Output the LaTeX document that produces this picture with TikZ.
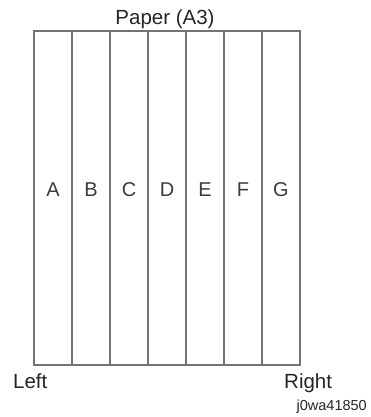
\documentclass[tikz,border=0pt]{standalone}
\usepackage{fontspec}
\setmainfont{Liberation Sans}
\begin{document}
\begin{tikzpicture}[x=1pt,y=-1pt,
  col/.style={draw=linegrey, line width=1.4pt, minimum width=38pt, minimum height=334pt, inner sep=0pt, outer sep=0pt},
  lbl/.style={text=txtgrey, font=\fontsize{20}{22}\selectfont, inner sep=0pt, anchor=base},
  captext/.style={text=black!85, font=\fontsize{20.5}{22}\selectfont, inner sep=0pt},
  codetext/.style={text=black!85, font=\fontsize{14.5}{16}\selectfont, inner sep=0pt}]
\definecolor{linegrey}{RGB}{115,115,115}
\definecolor{txtgrey}{RGB}{60,60,60}
\useasboundingbox[fill=white] (0,0) rectangle (370,417);
\foreach \n [count=\i from 0] in {A,B,C,D,E,F,G}{
  \node[col] (col\n) at ({34+38*\i+19},198) {};
  \node[lbl] (lab\n) at ({34+38*\i+19},196) {\n};
}
\node[captext, anchor=base] (paper) at (165,25) {Paper (A3)};
\node[captext, anchor=base west] (left) at (13,388) {Left};
\node[captext, anchor=base west] (right) at (284,388) {Right};
\node[codetext, anchor=base east] (code) at (367,410) {j0wa41850};
\end{tikzpicture}
\end{document}
